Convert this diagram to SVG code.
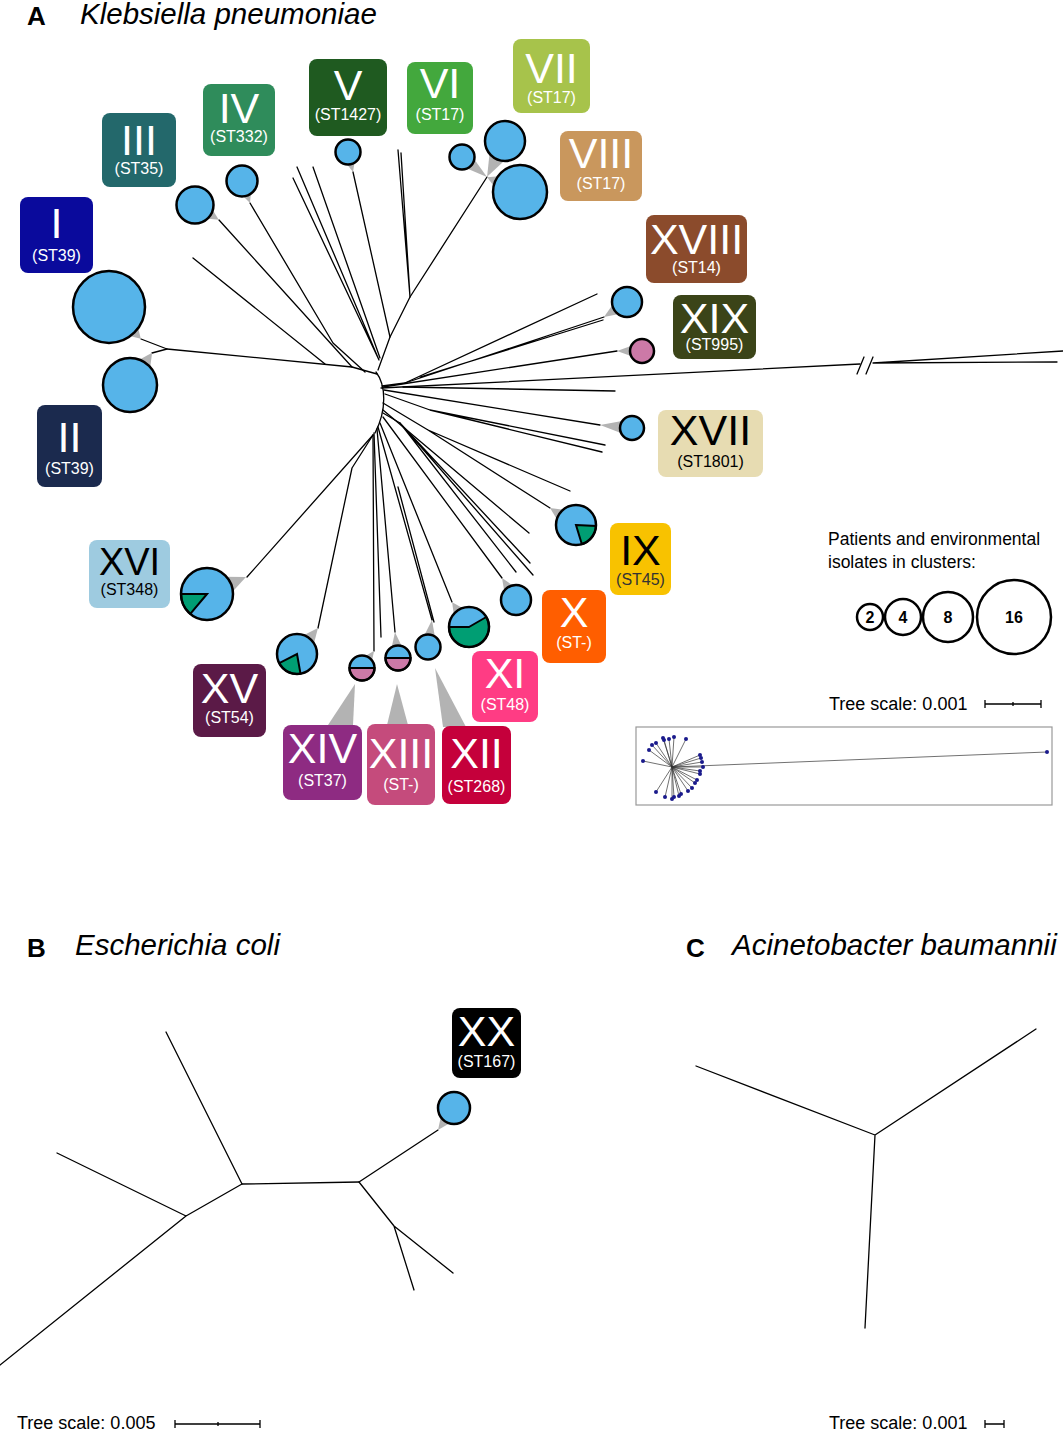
<svg xmlns="http://www.w3.org/2000/svg" width="1063" height="1430" viewBox="0 0 1063 1430">
<style>
  .br{stroke:#000;stroke-width:1.3;fill:none;stroke-linecap:round;stroke-linejoin:round}
  .w{fill:#b3b3b3}
  .c{fill:#56b4e9;stroke:#000;stroke-width:2.5}
  .co{fill:none;stroke:#000;stroke-width:2.5}
  .g{fill:#009e73;stroke:#000;stroke-width:2}
  .p{fill:#cc79a7;stroke:#000;stroke-width:2}
  .lb{font-family:"Liberation Sans",Arial,sans-serif;font-size:43px;fill:#fff;text-anchor:middle}
  .ls{font-family:"Liberation Sans",Arial,sans-serif;font-size:16px;fill:#fff;text-anchor:middle}
  .title{font-family:"Liberation Sans",Arial,sans-serif;font-size:29.5px;font-style:italic;fill:#000}
  .letter{font-family:"Liberation Sans",Arial,sans-serif;font-size:26px;font-weight:bold;fill:#000}
  .txt{font-family:"Liberation Sans",Arial,sans-serif;font-size:18px;fill:#000}
  .num{font-family:"Liberation Sans",Arial,sans-serif;font-size:16px;font-weight:bold;fill:#000;text-anchor:middle}
  .lc{fill:#fff;stroke:#000;stroke-width:2.5}
  .mini{stroke:#333;stroke-width:0.7;fill:none}
  .dot{fill:#1a1a8c}
</style>

<!-- Titles -->
<text class="letter" x="27" y="25">A</text>
<text class="title" x="80" y="24">Klebsiella pneumoniae</text>
<text class="letter" x="27" y="957">B</text>
<text class="title" x="75" y="955">Escherichia coli</text>
<text class="letter" x="686" y="957">C</text>
<text class="title" x="732" y="955">Acinetobacter baumannii</text>

<!-- Connectors (tree branches) -->
<g id="connectors">
  <path class="br" d="M376,372 C386,385 387,410 375,433"/>
  <!-- upper-left -->
  <path class="br" d="M377,374 L352,367 L167,349"/>
  <path class="br" d="M167,349 L141,339 M167,349 L152,353"/>
  <path class="br" d="M193,258 L325,364"/>
  <path class="br" d="M219,220 L352,367"/>
  <path class="br" d="M250,203 L333,343 L365,372"/>
  <path class="br" d="M293,178 L379,360 M297,167 L379,360 M313,167 L380,358"/>
  <!-- V / VI-VIII trunk -->
  <path class="br" d="M487,177 L410,297 L390,337 L378,370"/>
  <path class="br" d="M353,172 L390,337"/>
  <path class="br" d="M398,150 L410,297 M401,153 L410,297"/>
  <!-- upper-right -->
  <path class="br" d="M382,386 L405,383 L597,294"/>
  <path class="br" d="M405,383 L604,317 M420,377 L603,320"/>
  <path class="br" d="M383,387 L617,351"/>
  <path class="br" d="M381,388 L860,364"/>
  <path class="br" d="M873,363 L1063,351 M873,363 L1057,362"/>
  <path class="br" d="M857,374 L864,357 M866,374 L873,357"/>
  <path class="br" d="M403,387 L615,391"/>
  <path class="br" d="M384,390 L600,425"/>
  <path class="br" d="M385,394 L430,410 L605,445 M430,410 L602,452"/>
  <!-- lower-right -->
  <path class="br" d="M383,403 L428,430 L570,491 M428,430 L550,508"/>
  <path class="br" d="M383,410 L529,533"/>
  <path class="br" d="M400,423 L530,563 M400,423 L533,575 M400,423 L516,572 M383,413 L400,423"/>
  <path class="br" d="M383,417 L502,578"/>
  <path class="br" d="M380,423 L452,602"/>
  <path class="br" d="M378,427 L432,620 M398,487 L434,622"/>
  <path class="br" d="M377,429 L395,632"/>
  <path class="br" d="M374,433 L381,637"/>
  <path class="br" d="M373,435 L374,651"/>
  <path class="br" d="M373,435 L352,468 L318,628"/>
  <path class="br" d="M373,435 L247,577"/>
  <!-- B tree -->
  <path class="br" d="M166,1032 L242,1184 L359,1182 L438,1130"/>
  <path class="br" d="M359,1182 L394,1226 L453,1273 M394,1226 L414,1290"/>
  <path class="br" d="M242,1184 L186,1216 L57,1153 M186,1216 L0,1365"/>
  <!-- C tree -->
  <path class="br" d="M875,1135 L696,1066 M875,1135 L1036,1029 M875,1135 L865,1328"/>
</g>

<!-- Nodes: clusters -->
<g id="node-I">
  <polygon class="w" points="0,-27 45,0 0,27" transform="translate(109,307) rotate(45)"/>
  <circle class="c" cx="109" cy="307" r="36"/>
  <rect x="20" y="197" width="73" height="76" rx="8" fill="#0a0a9c"/>
  <text class="lb" x="56.5" y="238">I</text>
  <text class="ls" x="56.5" y="261">(ST39)</text>
</g>
<g id="node-II">
  <polygon class="w" points="0,-20 39,0 0,20" transform="translate(130,385) rotate(-55.5)"/>
  <circle class="c" cx="130" cy="385" r="27"/>
  <rect x="37" y="405" width="65" height="82" rx="8" fill="#1b2a4e"/>
  <text class="lb" x="69.5" y="452">II</text>
  <text class="ls" x="69.5" y="474">(ST39)</text>
</g>
<g id="node-III">
  <polygon class="w" points="0,-14 28,0 0,14" transform="translate(195,205) rotate(32)"/>
  <circle class="c" cx="195" cy="205" r="18.5"/>
  <rect x="102" y="113" width="74" height="74" rx="8" fill="#23686b"/>
  <text class="lb" x="139" y="155">III</text>
  <text class="ls" x="139" y="174">(ST35)</text>
</g>
<g id="node-IV">
  <polygon class="w" points="0,-11 23.4,0 0,11" transform="translate(242,181) rotate(70)"/>
  <circle class="c" cx="242" cy="181" r="15.5"/>
  <rect x="203" y="84" width="72" height="72" rx="8" fill="#2f8c5b"/>
  <text class="lb" x="239" y="123">IV</text>
  <text class="ls" x="239" y="142">(ST332)</text>
</g>
<g id="node-V">
  <polygon class="w" points="0,-9 20.6,0 0,9" transform="translate(348,152) rotate(76)"/>
  <circle class="c" cx="348" cy="152" r="12.5"/>
  <rect x="309" y="59" width="78" height="77" rx="8" fill="#1f5a20"/>
  <text class="lb" x="348" y="100">V</text>
  <text class="ls" x="348" y="120">(ST1427)</text>
</g>
<g id="node-VI">
  <polygon class="w" points="0,-9 32,0 0,9" transform="translate(462,157) rotate(38.7)"/>
  <circle class="c" cx="462" cy="157" r="12.5"/>
  <rect x="407" y="62" width="66" height="72" rx="8" fill="#43a83d"/>
  <text class="lb" x="440" y="98">VI</text>
  <text class="ls" x="440" y="120">(ST17)</text>
</g>
<g id="node-VII">
  <polygon class="w" points="0,-15 40,0 0,15" transform="translate(505,141) rotate(116.6)"/>
  <circle class="c" cx="505" cy="141" r="20"/>
  <rect x="513" y="39" width="77" height="74" rx="8" fill="#a7c34b"/>
  <text class="lb" x="551.5" y="83">VII</text>
  <text class="ls" x="551.5" y="103">(ST17)</text>
</g>
<g id="node-VIII">
  <polygon class="w" points="0,-20 36,0 0,20" transform="translate(520,192) rotate(204.4)"/>
  <circle class="c" cx="520" cy="192" r="27"/>
  <rect x="560" y="131" width="82" height="70" rx="8" fill="#c9975d"/>
  <text class="lb" x="601" y="168">VIII</text>
  <text class="ls" x="601" y="189">(ST17)</text>
</g>
<g id="node-XVIII">
  <polygon class="w" points="0,-11 27.5,0 0,11" transform="translate(627,302) rotate(146.9)"/>
  <circle class="c" cx="627" cy="302" r="15"/>
  <rect x="646" y="215" width="101" height="68" rx="8" fill="#8b4b2c"/>
  <text class="lb" x="696.5" y="254">XVIII</text>
  <text class="ls" x="696.5" y="273">(ST14)</text>
</g>
<g id="node-XIX">
  <polygon class="w" points="0,-9 25,0 0,9" transform="translate(642,351) rotate(180)"/>
  <circle class="c" cx="642" cy="351" r="12" style="fill:#cc79a7"/>
  <rect x="673" y="295" width="83" height="64" rx="8" fill="#3b4418"/>
  <text class="lb" x="714.5" y="333">XIX</text>
  <text class="ls" x="714.5" y="350">(ST995)</text>
</g>
<g id="node-XVII">
  <polygon class="w" points="0,-9 32,0 0,9" transform="translate(632,428) rotate(185.4)"/>
  <circle class="c" cx="632" cy="428" r="12"/>
  <rect x="658" y="410" width="105" height="67" rx="8" fill="#e7dcb2"/>
  <text class="lb" x="710.5" y="445" style="fill:#000">XVII</text>
  <text class="ls" x="710.5" y="467" style="fill:#000">(ST1801)</text>
</g>
<g id="node-IX">
  <polygon class="w" points="0,-15 31,0 0,15" transform="translate(576,525) rotate(213.2)"/>
  <circle cx="576" cy="525" r="20" fill="#56b4e9"/>
  <path class="g" d="M576,525 L596,526 A20,20 0 0 1 581.8,544.1 Z"/>
  <circle class="co" cx="576" cy="525" r="20"/>
  <rect x="610" y="523" width="61" height="72" rx="8" fill="#f8c200"/>
  <text class="lb" x="640.5" y="565" style="fill:#000">IX</text>
  <text class="ls" x="640.5" y="585" style="fill:#333">(ST45)</text>
</g>
<g id="node-X">
  <polygon class="w" points="0,-11 26,0 0,11" transform="translate(516,600) rotate(237.5)"/>
  <circle class="c" cx="516" cy="600" r="15"/>
  <rect x="542" y="590" width="64" height="73" rx="8" fill="#ff5e00"/>
  <text class="lb" x="574" y="627">X</text>
  <text class="ls" x="574" y="648">(ST-)</text>
</g>
<g id="node-XI">
  <polygon class="w" points="0,-15 30,0 0,15" transform="translate(469,627) rotate(235.8)"/>
  <circle cx="469" cy="627" r="20" fill="#56b4e9"/>
  <path class="g" d="M469,627 L486.3,617 A20,20 0 1 1 449,627 Z"/>
  <circle class="co" cx="469" cy="627" r="20"/>
  <rect x="472" y="651" width="66" height="71" rx="8" fill="#ff3c84"/>
  <text class="lb" x="505" y="688">XI</text>
  <text class="ls" x="505" y="710">(ST48)</text>
</g>
<g id="node-XII">
  <polygon class="w" points="0,-9 27.3,0 0,9" transform="translate(428,647) rotate(278.4)"/>
  <polygon class="w" points="435,668 443,727 466,727"/>
  <circle class="c" cx="428" cy="647" r="12.5"/>
  <rect x="442" y="726" width="69" height="78" rx="8" fill="#c5003b"/>
  <text class="lb" x="476.5" y="768">XII</text>
  <text class="ls" x="476.5" y="792">(ST268)</text>
</g>
<g id="node-XIII">
  <polygon class="w" points="0,-9 26,0 0,9" transform="translate(398,658) rotate(263.4)"/>
  <polygon class="w" points="397,684 387,725 408,725"/>
  <circle cx="398" cy="658" r="12.5" fill="#56b4e9"/>
  <path class="p" d="M385.5,658 A12.5,12.5 0 0 0 410.5,658 Z"/>
  <circle class="co" cx="398" cy="658" r="12.5"/>
  <rect x="367" y="724" width="68" height="81" rx="8" fill="#c54b7c"/>
  <text class="lb" x="401" y="768">XIII</text>
  <text class="ls" x="401" y="790">(ST-)</text>
</g>
<g id="node-XIV">
  <polygon class="w" points="0,-9 21,0 0,9" transform="translate(362,668) rotate(305.2)"/>
  <polygon class="w" points="355,684 328,725 353,725"/>
  <circle cx="362" cy="668" r="12.5" fill="#56b4e9"/>
  <path class="p" d="M349.5,668 A12.5,12.5 0 0 0 374.5,668 Z"/>
  <circle class="co" cx="362" cy="668" r="12.5"/>
  <rect x="283" y="725" width="79" height="75" rx="8" fill="#8e2b82"/>
  <text class="lb" x="322.5" y="763">XIV</text>
  <text class="ls" x="322.5" y="786">(ST37)</text>
</g>
<g id="node-XV">
  <polygon class="w" points="0,-15 33.4,0 0,15" transform="translate(297,654) rotate(308.9)"/>
  <circle cx="297" cy="654" r="20" fill="#56b4e9"/>
  <path class="g" d="M297,654 L300.5,673.7 A20,20 0 0 1 279.2,663.1 Z"/>
  <circle class="co" cx="297" cy="654" r="20"/>
  <rect x="193" y="664" width="73" height="73" rx="8" fill="#5b1a47"/>
  <text class="lb" x="229.5" y="703">XV</text>
  <text class="ls" x="229.5" y="723">(ST54)</text>
</g>
<g id="node-XVI">
  <polygon class="w" points="0,-19 42.5,0 0,19" transform="translate(207,594) rotate(336.4)"/>
  <circle cx="207" cy="594" r="26" fill="#56b4e9"/>
  <path class="g" d="M207,594 L190.3,613.9 A26,26 0 0 1 181,594 Z"/>
  <circle class="co" cx="207" cy="594" r="26"/>
  <rect x="89" y="540" width="81" height="68" rx="8" fill="#9ecbe0"/>
  <text class="lb" x="129.5" y="575" style="fill:#000;font-size:38px">XVI</text>
  <text class="ls" x="129.5" y="595" style="fill:#000">(ST348)</text>
</g>
<g id="node-XX">
  <polygon class="w" points="0,-12 27.2,0 0,12" transform="translate(454,1108) rotate(126)"/>
  <circle class="c" cx="454" cy="1108" r="16"/>
  <rect x="452" y="1008" width="69" height="70" rx="8" fill="#000"/>
  <text class="lb" x="486.5" y="1046">XX</text>
  <text class="ls" x="486.5" y="1067">(ST167)</text>
</g>

<!-- Legend -->
<g id="legend">
  <text class="txt" x="828" y="545" style="font-size:17.5px">Patients and environmental</text>
  <text class="txt" x="828" y="568" style="font-size:17.5px">isolates in clusters:</text>
  <circle class="lc" cx="870" cy="617" r="13"/>
  <circle class="lc" cx="903" cy="617" r="18"/>
  <circle class="lc" cx="948" cy="617" r="25"/>
  <circle class="lc" cx="1014" cy="617" r="37"/>
  <text class="num" x="870" y="623">2</text>
  <text class="num" x="903" y="623">4</text>
  <text class="num" x="948" y="623">8</text>
  <text class="num" x="1014" y="623">16</text>
</g>

<!-- Scale bars -->
<g id="scale-A">
  <text class="txt" x="829" y="710">Tree scale: 0.001</text>
  <path d="M985,704 H1041 M985,700 V708 M1041,700 V708 M1013,702 V706" stroke="#000" stroke-width="1.3" fill="none"/>
</g>
<g id="scale-B">
  <text class="txt" x="17" y="1429">Tree scale: 0.005</text>
  <path d="M175,1424 H260 M175,1420 V1428 M260,1420 V1428 M218,1422 V1426" stroke="#000" stroke-width="1.3" fill="none"/>
</g>
<g id="scale-C">
  <text class="txt" x="829" y="1429">Tree scale: 0.001</text>
  <path d="M985,1424 H1004 M985,1420 V1428 M1004,1420 V1428" stroke="#000" stroke-width="1.3" fill="none"/>
</g>

<!-- Inset overview -->
<g id="inset">
  <rect x="636" y="727" width="416" height="78" fill="#fff" stroke="#999" stroke-width="1.2"/>
  <path class="mini" d="M672,767 L643,761 M672,767 L649,750 M672,767 L652,745 M672,767 L656,743 M672,767 L663,738 M672,767 L664,740 M672,767 L669,739 M672,767 L674,737 M672,767 L686,739 M672,767 L700,755 M672,767 L701,758 M672,767 L702,762 M672,767 L703,767 M672,767 L700,771 M672,767 L700,774 M672,767 L697,780 M672,767 L695,783 M672,767 L692,788 M672,767 L688,791 M672,767 L681,794 M672,767 L679,796 M672,767 L674,797 M672,767 L672,799 M672,767 L665,797 M672,767 L656,792 M672,767 L1047,752"/>
  <g class="dot">
    <circle cx="643" cy="761" r="2"/><circle cx="649" cy="750" r="2"/><circle cx="652" cy="745" r="2"/>
    <circle cx="656" cy="743" r="2"/><circle cx="663" cy="738" r="2"/><circle cx="664" cy="740" r="2"/>
    <circle cx="669" cy="739" r="2"/><circle cx="674" cy="737" r="2"/><circle cx="686" cy="739" r="2"/>
    <circle cx="700" cy="755" r="2"/><circle cx="701" cy="758" r="2"/><circle cx="702" cy="762" r="2"/>
    <circle cx="703" cy="767" r="2"/><circle cx="700" cy="771" r="2"/><circle cx="700" cy="774" r="2"/>
    <circle cx="697" cy="780" r="2"/><circle cx="695" cy="783" r="2"/><circle cx="692" cy="788" r="2"/>
    <circle cx="688" cy="791" r="2"/><circle cx="681" cy="794" r="2"/><circle cx="679" cy="796" r="2"/>
    <circle cx="674" cy="797" r="2"/><circle cx="672" cy="799" r="2"/><circle cx="665" cy="797" r="2"/>
    <circle cx="656" cy="792" r="2"/><circle cx="1047" cy="752" r="2"/>
  </g>
</g>
</svg>
